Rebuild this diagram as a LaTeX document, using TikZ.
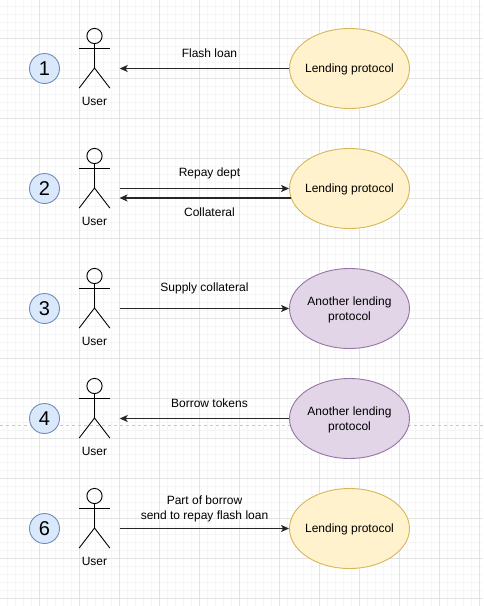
\documentclass[tikz,border=0pt]{standalone}
\usepackage{fontspec}
\setmainfont{Liberation Sans}
\tikzset{
  gridminor/.style={draw=black!4,line width=0.8pt},
  gridmajor/.style={draw=black!11,line width=0.9pt},
  pagebreak/.style={draw=black!22,line width=0.7pt,dash pattern=on 3pt off 3pt},
  stepmark/.style={circle,draw=stepline,fill=stepfill,line width=0.9pt,minimum size=30pt,inner sep=0pt,font=\fontsize{20}{24}\selectfont},
  lender/.style={ellipse,draw=lenderline,fill=lenderfill,line width=0.9pt,minimum width=120pt,minimum height=80pt,inner sep=0pt,label={[flowlabel,yshift=-1pt]center:#1}},
  rival/.style={lender={#1},draw=rivalline,fill=rivalfill},
  userbox/.style={minimum width=50pt,minimum height=60pt,inner sep=0pt},
  flowlabel/.style={align=center,inner sep=0pt},
  flow/.style={-{Stealth[length=8pt,width=7pt,inset=2pt]},line width=1.2pt,draw=black!85},
  stickman/.pic={
    \node[userbox] (box) at (0,0) {};
    \node[flowlabel] (name) at (0,33) {User};
    \draw[line width=0.9pt] (0,-32.5) circle (7.6pt);
    \draw[line width=0.9pt] (0,-25) -- (0,-0.5);
    \draw[line width=0.9pt] (-15.3,-20.5) -- (15.3,-20.5);
    \draw[line width=0.9pt] (-15.3,19.5) -- (0,-0.5) -- (15.3,19.5);
  }
}
\definecolor{stepline}{HTML}{6C8EBF}
\definecolor{stepfill}{HTML}{DAE8FC}
\definecolor{lenderline}{HTML}{D6B656}
\definecolor{lenderfill}{HTML}{FFF2CC}
\definecolor{rivalline}{HTML}{9673A6}
\definecolor{rivalfill}{HTML}{E1D5E7}
\usetikzlibrary{shapes.geometric,arrows.meta}
\begin{document}
\begin{tikzpicture}[x=1pt,y=-1pt,font=\fontsize{12}{15}\selectfont]
  \useasboundingbox (0,0) rectangle (483,606);
  % background grid
  \foreach \gx in {0,1,...,60} {\draw[gridminor] ({-0.5+8*\gx},0) -- ({-0.5+8*\gx},606);}
  \foreach \gy in {0,1,...,75} {\draw[gridminor] (0,{6+8*\gy}) -- (483,{6+8*\gy});}
  \foreach \gx in {0,1,...,11} {\draw[gridmajor] ({39.5+40*\gx},0) -- ({39.5+40*\gx},606);}
  \foreach \gy in {0,1,...,14} {\draw[gridmajor] (0,{38+40*\gy}) -- (483,{38+40*\gy});}
  \draw[pagebreak] (0,425.5) -- (483,425.5);
  % steps
  \node[stepmark] (s1) at (44.5,68.5) {1};
  \node[stepmark] (s2) at (44.5,188.5) {2};
  \node[stepmark] (s3) at (44.5,308.5) {3};
  \node[stepmark] (s4) at (44.5,418.5) {4};
  \node[stepmark] (s6) at (44.5,528.5) {6};
  % users
  \pic (u1) at (94.5,68.5) {stickman};
  \pic (u2) at (94.5,188.5) {stickman};
  \pic (u3) at (94.5,308.5) {stickman};
  \pic (u4) at (94.5,418.5) {stickman};
  \pic (u6) at (94.5,528.5) {stickman};
  % protocols
  \node[lender={Lending protocol}] (p1) at (349.5,68.5) {};
  \node[lender={Lending protocol}] (p2) at (349.5,188.5) {};
  \node[rival={Another lending\\protocol}] (p3) at (349.5,308.5) {};
  \node[rival={Another lending\\protocol}] (p4) at (349.5,418.5) {};
  \node[lender={Lending protocol}] (p6) at (349.5,528.5) {};
  % row two has a second line below the first
  \coordinate (u2low) at (119.5,198);
  \coordinate (p2low) at (291.4,198);
  \draw[flow] (p1) -- (u1box);
  \draw[flow] (u2box) -- (p2);
  \draw[flow] (p2low) -- (u2low);
  \draw[flow] (u3box) -- (p3);
  \draw[flow] (p4) -- (u4box);
  \draw[flow] (u6box) -- (p6);
  % labels
  \node[flowlabel] (l1) at (209.5,53.5) {Flash loan};
  \node[flowlabel] (l2) at (209.5,173.5) {Repay dept};
  \node[flowlabel] (l2b) at (209.5,212.5) {Collateral};
  \node[flowlabel] (l3) at (204.5,288.5) {Supply collateral};
  \node[flowlabel] (l4) at (209.5,403.5) {Borrow tokens};
  \node[flowlabel] (l6) at (204.5,508.5) {Part of borrow\\send to repay flash loan};
\end{tikzpicture}
\end{document}
